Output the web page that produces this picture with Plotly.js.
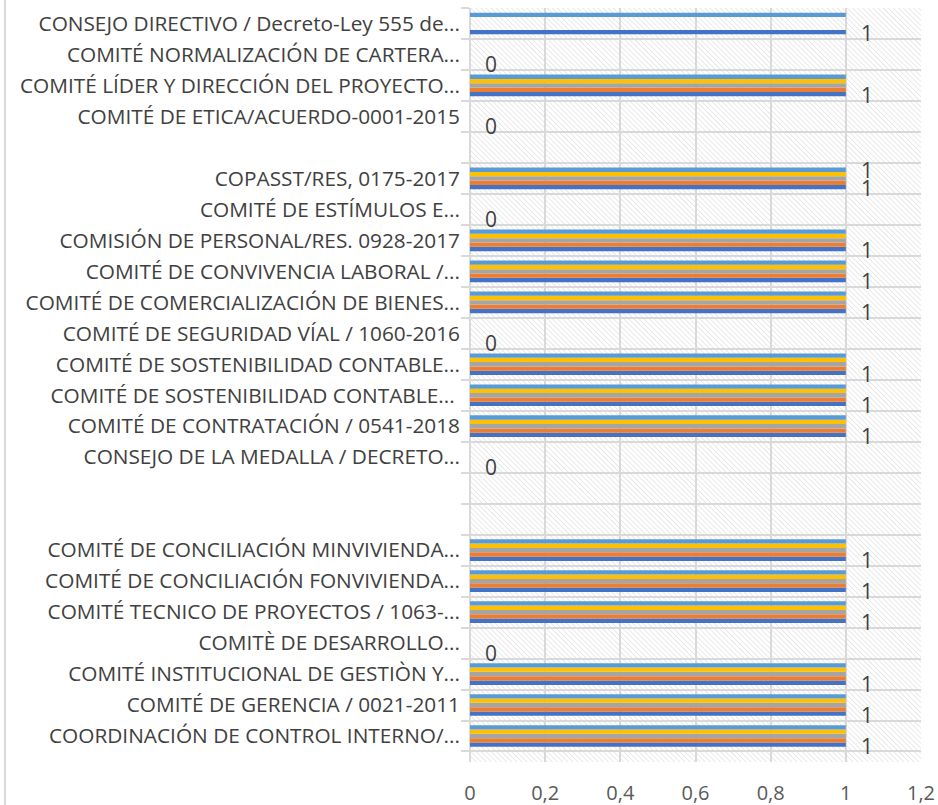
<!DOCTYPE html>
<html>
<head>
<meta charset="utf-8">
<script src="https://cdn.plot.ly/plotly-3.0.1.min.js"></script>
<style>
html,body{margin:0;padding:0;background:#fff;}
#chart{width:938px;height:805px;}
</style>
</head>
<body>
<div id="chart"></div>
<script>
// Categories, top to bottom as in the reference (blank rows are empty categories)
const categories = [
  "CONSEJO DIRECTIVO / Decreto-Ley 555 de...",
  "COMITÉ NORMALIZACIÓN DE CARTERA...",
  "COMITÉ LÍDER Y DIRECCIÓN DEL PROYECTO...",
  "COMITÉ DE ETICA/ACUERDO-0001-2015",
  " ",
  "COPASST/RES, 0175-2017",
  "COMITÉ DE ESTÍMULOS E...",
  "COMISIÓN DE PERSONAL/RES. 0928-2017",
  "COMITÉ DE CONVIVENCIA LABORAL /...",
  "COMITÉ DE COMERCIALIZACIÓN DE BIENES...",
  "COMITÉ DE SEGURIDAD VÍAL / 1060-2016",
  "COMITÉ DE SOSTENIBILIDAD CONTABLE...",
  "COMITÉ DE SOSTENIBILIDAD CONTABLE... ",
  "COMITÉ DE CONTRATACIÓN / 0541-2018",
  "CONSEJO DE LA MEDALLA / DECRETO...",
  "  ",
  "   ",
  "COMITÉ DE CONCILIACIÓN MINVIVIENDA...",
  "COMITÉ DE CONCILIACIÓN FONVIVIENDA...",
  "COMITÉ TECNICO DE PROYECTOS / 1063-...",
  "COMITÈ DE DESARROLLO...",
  "COMITÉ INSTITUCIONAL DE GESTIÒN Y...",
  "COMITÉ DE GERENCIA / 0021-2011",
  "COORDINACIÓN DE CONTROL INTERNO/..."
];

// Series values (same order as categories); null = no data
const serie1 = [1,0,1,0,null,1,0,1,1,1,0,1,1,1,0,null,null,1,1,1,0,1,1,1];
const serie2 = [0,0,1,0,null,1,0,1,1,1,0,1,1,1,0,null,null,1,1,1,0,1,1,1];
const serie3 = [0,0,1,0,null,1,0,1,1,1,0,1,1,1,0,null,null,1,1,1,0,1,1,1];
const serie4 = [0,0,1,0,null,1,0,1,1,1,0,1,1,1,0,null,null,1,1,1,0,1,1,1];
const serie5 = [1,0,1,0,null,1,0,1,1,1,0,1,1,1,0,null,null,1,1,1,0,1,1,1];

// Data labels: serie1 labelled on every row with data, serie5 only on COPASST
const serie5Labelled = ["COPASST/RES, 0175-2017"];

const xTickVals = [0, 0.2, 0.4, 0.6, 0.8, 1, 1.2];
const xTickText = ["0", "0,2", "0,4", "0,6", "0,8", "1", "1,2"];

const seriesList = [serie1, serie2, serie3, serie4, serie5];
const seriesNames = ["Serie1","Serie2","Serie3","Serie4","Serie5"];
const seriesColors = ["#4472C4","#ED7D31","#A5A5A5","#FFC000","#5B9BD5"];

const traces = seriesList.map((vals, i) => ({
  type: 'bar',
  orientation: 'h',
  name: seriesNames[i],
  y: categories,
  x: vals,
  marker: {color: seriesColors[i], line: {width: 0}},
  hoverinfo: 'x+y'
}));

const FONT = 'Open Sans, Noto Sans, sans-serif';
const labelFont = {family: FONT, size: 21, color: '#404040'};
const annotations = [];
categories.forEach((c, k) => {
  if (serie1[k] !== null) {
    annotations.push({x: serie1[k], y: c, xref: 'x', yref: 'y', text: String(serie1[k]),
      showarrow: false, xanchor: 'center', yanchor: 'middle', xshift: 21, yshift: -10, font: labelFont});
  }
  if (serie5Labelled.indexOf(c) >= 0 && serie5[k] !== null) {
    annotations.push({x: serie5[k], y: c, xref: 'x', yref: 'y', text: String(serie5[k]),
      showarrow: false, xanchor: 'center', yanchor: 'middle', xshift: 21, yshift: 8, font: labelFont});
  }
});

// Hatched background for the plot area
const hatchSvg = '<svg xmlns="http://www.w3.org/2000/svg" width="451" height="754" preserveAspectRatio="none">' +
  '<defs><pattern id="h" width="3.6" height="3.6" patternUnits="userSpaceOnUse" patternTransform="rotate(-45)">' +
  '<rect width="3.6" height="3.6" fill="#ffffff"/>' +
  '<line x1="0" y1="0" x2="0" y2="3.6" stroke="#dedede" stroke-width="1.3"/></pattern></defs>' +
  '<rect width="451" height="754" fill="url(#h)"/></svg>';

const layout = {
  width: 938, height: 805,
  margin: {l: 470, r: 17, t: 8, b: 43, pad: 0},
  paper_bgcolor: '#ffffff',
  plot_bgcolor: 'rgba(0,0,0,0)',
  barmode: 'group',
  bargap: 0.3,
  bargroupgap: 0,
  showlegend: false,
  font: {family: FONT, size: 20, color: '#404040'},
  xaxis: {
    range: [0, 1.2],
    tickmode: 'array',
    tickvals: xTickVals,
    ticktext: xTickText,
    showgrid: true, gridcolor: '#d9d9d9', gridwidth: 2,
    zeroline: true, zerolinecolor: '#d9d9d9', zerolinewidth: 2,
    showline: false, ticks: '',
    tickfont: {family: FONT, size: 20, color: '#595959'},
    ticklabelstandoff: 17,
    fixedrange: true
  },
  yaxis: {
    type: 'category',
    categoryorder: 'array',
    categoryarray: categories.slice().reverse(),
    tickson: 'boundaries',
    ticks: 'outside', ticklen: 8, tickcolor: '#d9d9d9', tickwidth: 2,
    showgrid: true, gridcolor: '#d9d9d9', gridwidth: 2,
    showline: false, zeroline: false,
    tickfont: {family: FONT, size: 20.8, color: '#404040'},
    ticklabelstandoff: 9,
    fixedrange: true
  },
  images: [{
    source: 'data:image/svg+xml;charset=utf-8,' + encodeURIComponent(hatchSvg),
    xref: 'paper', yref: 'paper', x: 0, y: 1, sizex: 1, sizey: 1,
    sizing: 'stretch', xanchor: 'left', yanchor: 'top', layer: 'below'
  }],
  shapes: [{
    type: 'line', xref: 'paper', yref: 'paper',
    x0: -465/451, x1: -465/451, y0: -43/754, y1: 1 + 8/754,
    line: {color: '#d9d9d9', width: 2}
  }],
  annotations: annotations
};

Plotly.newPlot('chart', traces, layout, {displayModeBar: false, staticPlot: true});
</script>
</body>
</html>
